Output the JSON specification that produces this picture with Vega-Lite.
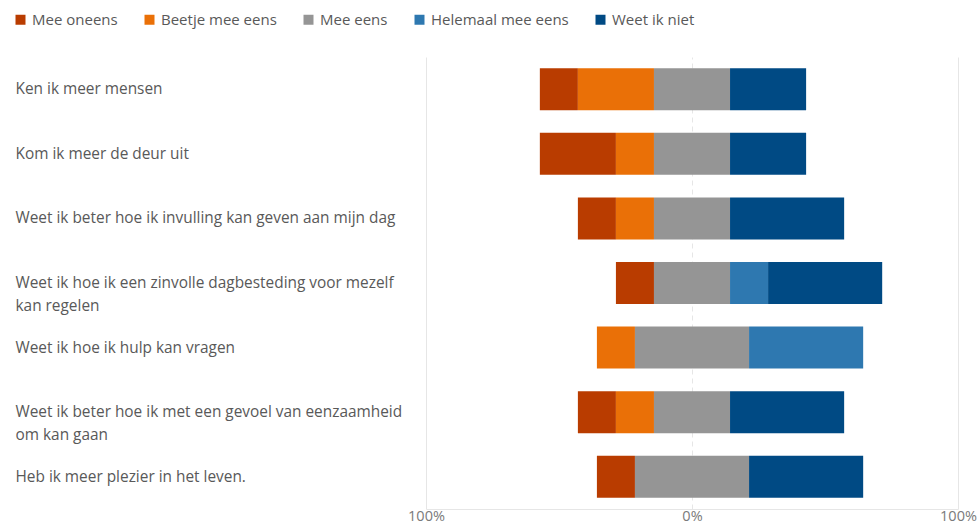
{
  "$schema": "https://vega.github.io/schema/vega-lite/v6.json",
  "width": 532,
  "height": 452,
  "padding": {"left": 13, "top": 12, "right": 0, "bottom": 0},
  "background": "white",
  "config": {
    "view": {"stroke": null},
    "font": "Open Sans"
  },
  "data": {
    "values": [
      {"vraag": "Ken ik meer mensen", "antwoord": "Mee oneens", "pct": 14.3},
      {"vraag": "Ken ik meer mensen", "antwoord": "Beetje mee eens", "pct": 28.6},
      {"vraag": "Ken ik meer mensen", "antwoord": "Mee eens", "pct": 28.6},
      {"vraag": "Ken ik meer mensen", "antwoord": "Weet ik niet", "pct": 28.6},
      {"vraag": "Kom ik meer de deur uit", "antwoord": "Mee oneens", "pct": 28.6},
      {"vraag": "Kom ik meer de deur uit", "antwoord": "Beetje mee eens", "pct": 14.3},
      {"vraag": "Kom ik meer de deur uit", "antwoord": "Mee eens", "pct": 28.6},
      {"vraag": "Kom ik meer de deur uit", "antwoord": "Weet ik niet", "pct": 28.6},
      {"vraag": "Weet ik beter hoe ik invulling kan geven aan mijn dag", "antwoord": "Mee oneens", "pct": 14.3},
      {"vraag": "Weet ik beter hoe ik invulling kan geven aan mijn dag", "antwoord": "Beetje mee eens", "pct": 14.3},
      {"vraag": "Weet ik beter hoe ik invulling kan geven aan mijn dag", "antwoord": "Mee eens", "pct": 28.6},
      {"vraag": "Weet ik beter hoe ik invulling kan geven aan mijn dag", "antwoord": "Weet ik niet", "pct": 42.9},
      {"vraag": "Weet ik hoe ik een zinvolle dagbesteding voor mezelf kan regelen", "antwoord": "Mee oneens", "pct": 14.3},
      {"vraag": "Weet ik hoe ik een zinvolle dagbesteding voor mezelf kan regelen", "antwoord": "Mee eens", "pct": 28.6},
      {"vraag": "Weet ik hoe ik een zinvolle dagbesteding voor mezelf kan regelen", "antwoord": "Helemaal mee eens", "pct": 14.3},
      {"vraag": "Weet ik hoe ik een zinvolle dagbesteding voor mezelf kan regelen", "antwoord": "Weet ik niet", "pct": 42.9},
      {"vraag": "Weet ik hoe ik hulp kan vragen", "antwoord": "Beetje mee eens", "pct": 14.3},
      {"vraag": "Weet ik hoe ik hulp kan vragen", "antwoord": "Mee eens", "pct": 42.9},
      {"vraag": "Weet ik hoe ik hulp kan vragen", "antwoord": "Helemaal mee eens", "pct": 42.9},
      {"vraag": "Weet ik beter hoe ik met een gevoel van eenzaamheid om kan gaan", "antwoord": "Mee oneens", "pct": 14.3},
      {"vraag": "Weet ik beter hoe ik met een gevoel van eenzaamheid om kan gaan", "antwoord": "Beetje mee eens", "pct": 14.3},
      {"vraag": "Weet ik beter hoe ik met een gevoel van eenzaamheid om kan gaan", "antwoord": "Mee eens", "pct": 28.6},
      {"vraag": "Weet ik beter hoe ik met een gevoel van eenzaamheid om kan gaan", "antwoord": "Weet ik niet", "pct": 42.9},
      {"vraag": "Heb ik meer plezier in het leven.", "antwoord": "Mee oneens", "pct": 14.3},
      {"vraag": "Heb ik meer plezier in het leven.", "antwoord": "Mee eens", "pct": 42.9},
      {"vraag": "Heb ik meer plezier in het leven.", "antwoord": "Weet ik niet", "pct": 42.9}
    ]
  },
  "transform": [
    {"calculate": "indexof(['Mee oneens','Beetje mee eens','Mee eens','Helemaal mee eens','Weet ik niet'], datum.antwoord)", "as": "volgorde"},
    {"calculate": "datum.volgorde < 2 ? datum.pct : (datum.volgorde == 2 ? datum.pct / 2 : 0)", "as": "links"},
    {"stack": "pct", "groupby": ["vraag"], "sort": [{"field": "volgorde", "order": "ascending"}], "as": ["s0", "s1"]},
    {"joinaggregate": [{"op": "sum", "field": "links", "as": "offset"}], "groupby": ["vraag"]},
    {"calculate": "datum.s0 - datum.offset", "as": "x0"},
    {"calculate": "datum.s1 - datum.offset", "as": "x1"}
  ],
  "mark": {"type": "bar"},
  "encoding": {
    "y": {
      "field": "vraag",
      "type": "nominal",
      "sort": [
        "Ken ik meer mensen",
        "Kom ik meer de deur uit",
        "Weet ik beter hoe ik invulling kan geven aan mijn dag",
        "Weet ik hoe ik een zinvolle dagbesteding voor mezelf kan regelen",
        "Weet ik hoe ik hulp kan vragen",
        "Weet ik beter hoe ik met een gevoel van eenzaamheid om kan gaan",
        "Heb ik meer plezier in het leven."
      ],
      "scale": {"paddingInner": 0.35, "paddingOuter": 0.175},
      "axis": {
        "title": null,
        "domain": false,
        "ticks": false,
        "labelAlign": "left",
        "labelPadding": 411,
        "labelLimit": 420,
        "labelFontSize": 15.4,
        "labelColor": "#595959",
        "labelLineHeight": 23,
        "labelExpr": "datum.label == 'Weet ik hoe ik een zinvolle dagbesteding voor mezelf kan regelen' ? ['Weet ik hoe ik een zinvolle dagbesteding voor mezelf', 'kan regelen'] : datum.label == 'Weet ik beter hoe ik met een gevoel van eenzaamheid om kan gaan' ? ['Weet ik beter hoe ik met een gevoel van eenzaamheid', 'om kan gaan'] : datum.label"
      }
    },
    "x": {
      "field": "x0",
      "type": "quantitative",
      "scale": {"domain": [-100, 100], "nice": false, "zero": false},
      "axis": {
        "title": null,
        "values": [-100, 0, 100],
        "labelExpr": "abs(datum.value) + '%'",
        "labelFlush": false,
        "ticks": false,
        "labelPadding": 0,
        "labelFontSize": 14.5,
        "labelColor": "#7a7a7a",
        "domain": true,
        "domainColor": "#e6e6e6",
        "grid": true,
        "gridColor": "#e6e6e6",
        "gridDash": {"condition": {"test": "datum.value === 0", "value": [5, 4]}, "value": []}
      }
    },
    "x2": {"field": "x1"},
    "color": {
      "field": "antwoord",
      "type": "nominal",
      "scale": {
        "domain": ["Mee oneens", "Beetje mee eens", "Mee eens", "Helemaal mee eens", "Weet ik niet"],
        "range": ["#b93c00", "#ea7007", "#959595", "#2e78b0", "#004a84"]
      },
      "legend": {
        "title": null,
        "orient": "none",
        "direction": "horizontal",
        "legendX": -413,
        "legendY": -45,
        "symbolType": "square",
        "symbolSize": 100,
        "symbolStrokeWidth": 0,
        "labelFontSize": 15,
        "labelColor": "#595959",
        "labelOffset": 4,
        "columnPadding": 24
      }
    }
  }
}
